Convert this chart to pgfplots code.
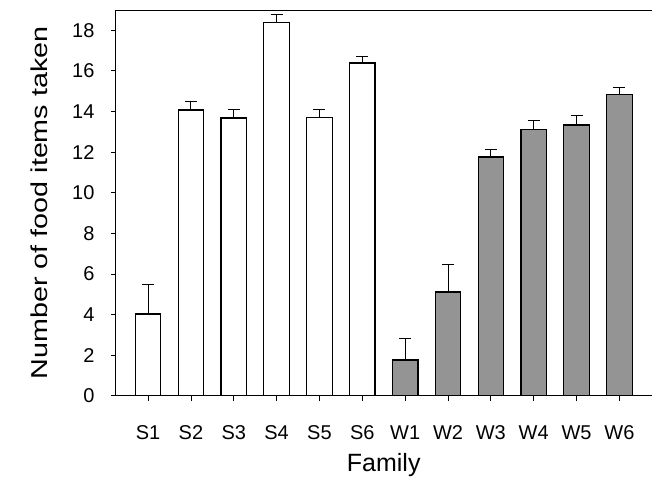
\documentclass[border=0pt]{standalone}
\usepackage{fontspec}
\setmainfont{Liberation Sans}
\newfontfamily\ylabfont[FakeStretch=1.25]{Liberation Sans}
\usepackage{pgfplots}
\pgfplotsset{compat=1.18}
\begin{document}
\begin{tikzpicture}
\begin{axis}[
  scale only axis, width=536pt, height=386pt,
  xmin=-0.75, xmax=11.75, ymin=0, ymax=19,
  axis x line*=bottom, axis y line*=left,
  axis line style={line width=0.9pt, black},
  ybar, bar width=25.5pt,
  xtick={0,...,11},
  xticklabels={S1,S2,S3,S4,S5,S6,W1,W2,W3,W4,W5,W6},
  ytick={0,2,...,18},
  tick align=outside, major tick length=5pt,
  tick style={line width=0.8pt, black},
  /pgf/number format/assume math mode=true,
  ticklabel style={font=\fontsize{20}{20}\selectfont},
  yticklabel style={anchor=east, xshift=-13pt},
  xticklabel style={anchor=base, yshift=-39pt},
  xlabel={Family},
  xlabel style={font=\fontsize{25}{25}\selectfont, anchor=base,
    at={([yshift=-76pt]axis description cs:0.5,0)}},
  ylabel={Number of food items taken},
  ylabel style={font=\ylabfont\fontsize{23}{23}\selectfont, anchor=center,
    at={([xshift=-77pt]axis description cs:0,0.5)}},
  clip=false,
]
\addplot[bar shift=0pt, draw=black, line width=1.2pt, fill=white,
  error bars/.cd, y dir=plus, y explicit,
  error bar style={line width=1pt, black},
  error mark=-, error mark options={rotate=90, mark size=6pt, line width=1pt, black}]
  table[x=x, y=y, y error=e] {
x y e
0 4.03 1.43
1 14.07 0.43
2 13.68 0.44
3 18.38 0.41
4 13.71 0.41
5 16.39 0.33
};
\addplot[bar shift=0pt, draw=black, line width=1.2pt, fill=black!42,
  error bars/.cd, y dir=plus, y explicit,
  error bar style={line width=1pt, black},
  error mark=-, error mark options={rotate=90, mark size=6pt, line width=1pt, black}]
  table[x=x, y=y, y error=e] {
x y e
6 1.76 1.04
7 5.11 1.37
8 11.76 0.37
9 13.12 0.43
10 13.33 0.47
11 14.83 0.33
};
\draw[line width=0.9pt] (rel axis cs:0,1) -- (rel axis cs:1,1);
\path (rel axis cs:1,1) ++(0pt,10pt);
\path (rel axis cs:0,0) ++(-116pt,-83pt);
\end{axis}
\end{tikzpicture}
\end{document}
